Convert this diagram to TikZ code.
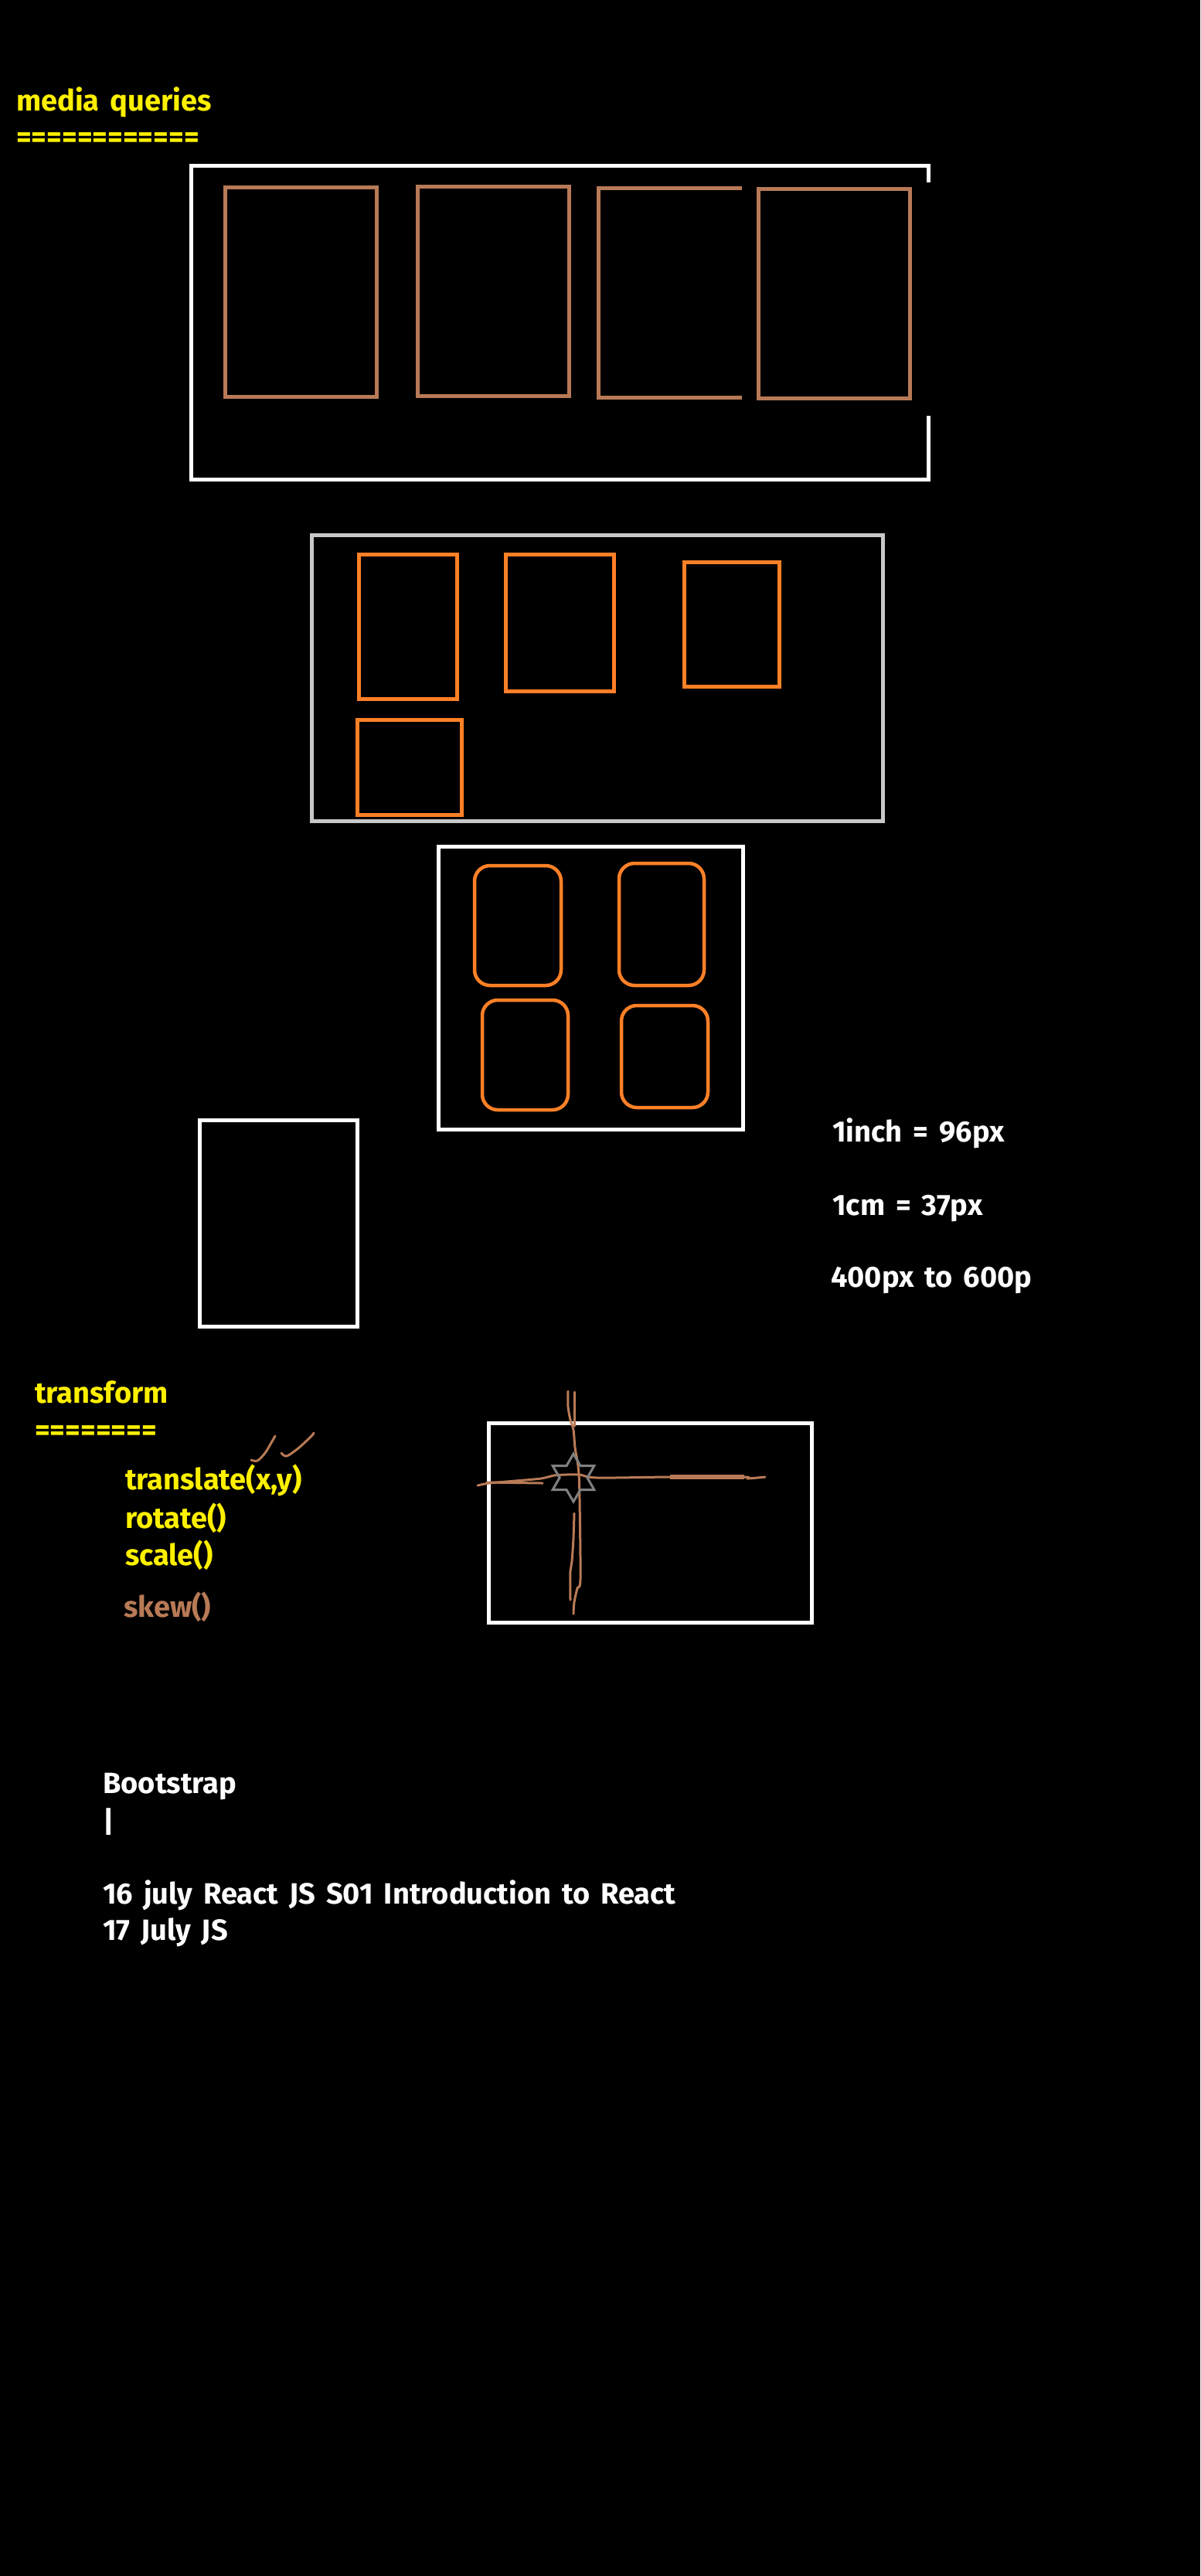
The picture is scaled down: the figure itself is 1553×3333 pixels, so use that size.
\documentclass[tikz,border=0pt]{standalone}
\usepackage{fontspec}
\setmainfont{Fira Sans}
\usepackage{tikz}
\usetikzlibrary{positioning}
\usetikzlibrary{shapes}
\definecolor{noteyellow}{RGB}{255,240,0}
\definecolor{copper}{RGB}{184,122,86}
\definecolor{boxorange}{RGB}{255,128,38}
\definecolor{framegray}{RGB}{200,200,200}
\definecolor{stargray}{RGB}{128,128,128}
\newcommand{\notefont}{\fontsize{38}{46}\selectfont\bfseries\spaceskip 14pt\relax}
\tikzstyle{whiteframe}=[draw=white,line width=5pt,inner sep=0pt]
\tikzstyle{grayframe}=[draw=framegray,line width=5pt,inner sep=0pt]
\tikzstyle{copperbox}=[draw=copper,line width=5pt,inner sep=0pt]
\tikzstyle{orangebox}=[draw=boxorange,line width=5pt,inner sep=0pt]
\tikzstyle{roundbox}=[draw=boxorange,line width=4.5pt,inner sep=0pt,rounded corners=20pt]
\tikzstyle{scribble}=[draw=copper,line width=3pt,line cap=round,line join=round]
\tikzstyle{note}=[anchor=base west,inner sep=0pt,font=\notefont]

\begin{document}
\begin{tikzpicture}[x=1pt,y=-1pt]
    % Black page
    \useasboundingbox (0,0) rectangle (1553,3333);
    \fill[black] (0,0) rectangle (1553,3333);

    % Media queries: four columns in a wide frame
    \node[note,text=noteyellow] (mqtitle) at (21,143) {media queries};
    \node[note,text=noteyellow] (mqline) at (21,190) {============};
    \draw[white,line width=5pt] (1201.5,236) -- (1201.5,214.5) -- (247,214.5) -- (247,620) -- (1201.5,620) -- (1201.5,538);
    \foreach \pos/\name/\w/\h in {{(389.5,378)/colA/196/271}, {(638.5,377)/colB/196/271}, {(1079.5,380)/colD/196/271}}
        \node[copperbox,minimum width=\w pt,minimum height=\h pt] (\name) at \pos {};
    \draw[copper,line width=5pt] (960,243.5) -- (774.5,243.5) -- (774.5,514.5) -- (960,514.5);

    % Tablet: three boxes and one wrapped below
    \node[grayframe,minimum width=739pt,minimum height=370pt] (tablet) at (773,877.5) {};
    \foreach \pos/\name/\w/\h in {{(528,811)/tabA/127/187}, {(724.5,806)/tabB/140/177},
    {(947,808)/tabC/123/161}, {(530,993)/tabD/135/123}}
        \node[orangebox,minimum width=\w pt,minimum height=\h pt] (\name) at \pos {};

    % Two by two grid of rounded cards
    \node[whiteframe,minimum width=394pt,minimum height=366pt] (grid) at (764.5,1278.5) {};
    \foreach \pos/\name/\w/\h in {{(670,1197.5)/cardA/112/155}, {(856,1196)/cardB/110/158},
    {(679.5,1365)/cardC/111/142}, {(860,1367)/cardD/112/132}}
        \node[roundbox,minimum width=\w pt,minimum height=\h pt] (\name) at \pos {};

    % Phone
    \node[whiteframe,minimum width=204pt,minimum height=267pt] (phone) at (360.5,1583) {};

    % Units
    \node[note,text=white] (inch) at (1077,1477) {1inch = 96px};
    \node[note,text=white] (cm) at (1077,1572) {1cm = 37px};
    \node[note,text=white] (range) at (1075,1665) {400px to 600p};

    % Transform
    \node[note,text=noteyellow] (trtitle) at (45,1815) {transform};
    \node[note,text=noteyellow] (trline) at (45,1863) {========};
    \node[note,text=noteyellow] (translate) at (162,1927) {translate(x,y)};
    \node[note,text=noteyellow] (rotate) at (162,1977) {rotate()};
    \node[note,text=noteyellow] (scale) at (162,2025) {scale()};
    \node[note,text=copper] (skew) at (160,2092) {skew()};
    \draw[scribble] plot[smooth] coordinates {(325,1889) (333,1890) (343,1880) (352,1865) (356,1858)};
    \draw[scribble] plot[smooth] coordinates {(364,1880) (371,1884) (387,1873) (403,1858) (406,1854)};

    % Origin of the transform in a frame
    \node[whiteframe,minimum width=418pt,minimum height=258pt] (stage) at (841.5,1970.5) {};
%   \draw[scribble] (stage.north west) -- (stage.south east);
    \draw[scribble] plot[smooth] coordinates {(735,1800) (735,1820) (738,1837) (742,1850) (744,1873) (747,1890) (749,1907) (750,1940) (751,2043) (747,2055) (743,2073) (742,2088)};
    \draw[scribble] (743,1801) -- (743,1845);
    \draw[scribble] plot[smooth] coordinates {(743,1958) (742,1990) (740,2020) (738,2033) (738,2070)};
    \draw[scribble] plot[smooth] coordinates {(618,1922) (633,1919) (667,1916) (700,1913) (717,1909) (733,1908) (750,1908) (773,1912) (867,1911) (963,1911) (967,1913) (990,1911)};
    \draw[scribble] (630,1918) -- (702,1919);
    \draw[copper,line width=6pt] (867,1911) -- (963,1911);
    \node[star,star points=6,star point ratio=1.73,minimum size=62pt,inner sep=0pt,draw=stargray,line width=3pt] (origin) at (742,1912) {};

    % Bootstrap
    \node[note,text=white] (boot) at (133,2320) {Bootstrap};
    \node[note,text=white] (bar) at (133,2370) {|};
    \node[note,text=white] (react) at (133,2463) {16 july React JS S01 Introduction to React};
    \node[note,text=white] (js) at (133,2510) {17 July JS};
\end{tikzpicture}
\end{document}
